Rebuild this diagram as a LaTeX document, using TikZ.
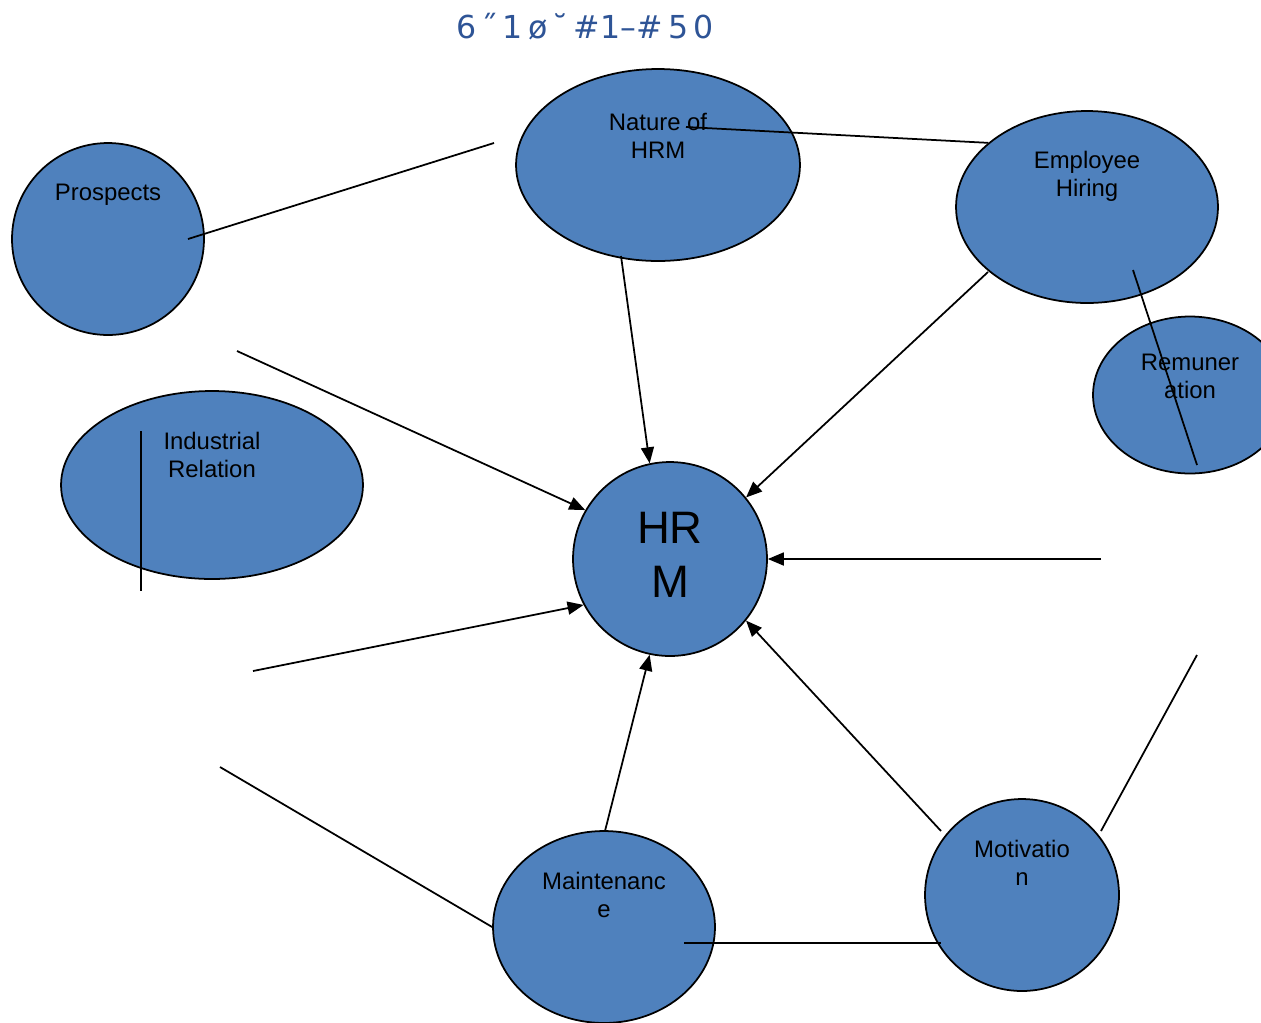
\documentclass[tikz,border=0pt]{standalone}
\usepackage{fontspec}
\setmainfont{Liberation Sans}
\newfontfamily\titlefont{DejaVu Sans}
\usetikzlibrary{shapes.geometric,arrows.meta}
\definecolor{bubble}{RGB}{79,129,189}
\definecolor{titleblue}{RGB}{46,84,150}
\tikzset{
  bubble/.style={ellipse,draw=black,line width=1pt,fill=bubble,inner sep=0pt},
  lbl/.style={align=center,font=\fontsize{13.6}{15.9}\selectfont},
  link/.style={line width=1pt},
  feed/.style={line width=1pt,-{Triangle[length=0.32cm,width=0.26cm]}}
}
\begin{document}
\begin{tikzpicture}[x=0.02cm,y=-0.02cm]
\useasboundingbox (0,0) rectangle (1261,1022);

% Title
\node[text=titleblue,font=\titlefont\fontsize{18}{20}\selectfont] (title) at (585,27) {6\,˝\,1\,ø\,˘\,\#1–\#\,5\,0};

% Ellipses
\node[bubble,minimum width=5.68cm,minimum height=3.84cm] (nature) at (658,165) {};
\node[bubble,minimum width=3.84cm,minimum height=3.84cm] (prospects) at (108,239) {};
\node[bubble,minimum width=5.24cm,minimum height=3.84cm] (hiring) at (1087,207) {};
\node[bubble,minimum width=3.88cm,minimum height=3.14cm] (remun) at (1190,395) {};
\node[bubble,minimum width=6.04cm,minimum height=3.76cm] (industrial) at (212,485) {};
\node[bubble,minimum width=3.88cm,minimum height=3.88cm] (hrm) at (670,559) {};
\node[bubble,minimum width=4.44cm,minimum height=3.84cm] (maint) at (604,927) {};
\node[bubble,minimum width=3.88cm,minimum height=3.84cm] (motiv) at (1022,895) {};

% Labels
\node[lbl] (nature-t) at (658,136) {Nature of\\HRM};
\node[lbl] (prospects-t) at (108,195) {Prospects};
\node[lbl] (hiring-t) at (1087,176) {Employee\\Hiring};
\node[lbl] (remun-t) at (1190,376) {Remuner\\ation};
\node[lbl] (industrial-t) at (212,455) {Industrial\\Relation};
\node[align=center,font=\fontsize{25.9}{30.6}\selectfont] (hrm-t) at (670,555) {HR\\M};
\node[lbl] (maint-t) at (604,895) {Maintenanc\\e};
\node[lbl] (motiv-t) at (1022,863) {Motivatio\\n};

% Free ends
\coordinate (p1) at (494,143);
\coordinate (p2) at (188,239);
\coordinate (n1) at (686,127);
\coordinate (n2) at (621,256);
\coordinate (h1) at (988,272);
\coordinate (h2) at (1133,270);
\coordinate (r1) at (1197,465);
\coordinate (a1) at (237,351);
\coordinate (i1) at (141,431);
\coordinate (i2) at (141,591);
\coordinate (a2) at (1101,559);
\coordinate (a3) at (253,671);
\coordinate (a4) at (1197,655);
\coordinate (a5) at (220,767);
\coordinate (m1) at (605,831);
\coordinate (m2) at (684,943);
\coordinate (v1) at (941,831);
\coordinate (v2) at (1101,831);
\coordinate (v3) at (941,943);

% Plain lines
\draw[link] (p1) -- (p2);
\draw[link] (n1) -- (hiring.147);
\draw[link] (h2) -- (r1);
\draw[link] (i1) -- (i2);
\draw[link] (a4) -- (v2);
\draw[link] (a5) -- (maint.west);
\draw[link] (m2) -- (v3);

% Arrows into HRM
\draw[feed] (n2) -- (hrm.102);
\draw[feed] (h1) -- (hrm.39);
\draw[feed] (a1) -- (hrm.150);
\draw[feed] (a2) -- (hrm.east);
\draw[feed] (a3) -- (hrm.208);
\draw[feed] (m1) -- (hrm.258);
\draw[feed] (v1) -- (hrm.321);
\end{tikzpicture}
\end{document}
